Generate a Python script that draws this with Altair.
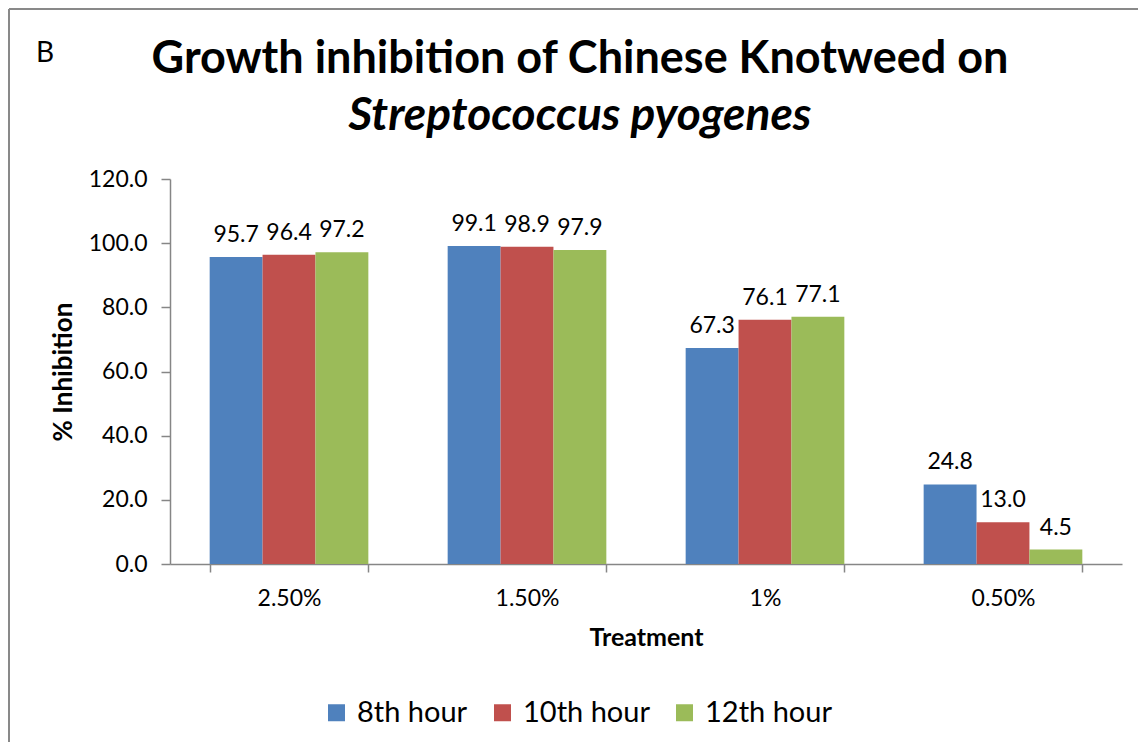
import altair as alt
import pandas as pd

categories = ["2.50%", "1.50%", "1%", "0.50%"]
series = ["8th hour", "10th hour", "12th hour"]
v8 = [95.7, 99.1, 67.3, 24.8]
v10 = [96.4, 98.9, 76.1, 13.0]
v12 = [97.2, 97.9, 77.1, 4.5]
colors = ["#4F81BD", "#C0504D", "#9BBB59"]
title_line1 = "Growth inhibition of Chinese Knotweed on"
title_line2 = "Streptococcus pyogenes"
panel_letter = "B"

rows = []
for s, vals in zip(series, [v8, v10, v12]):
    for c, v in zip(categories, vals):
        rows.append({"Treatment": c, "Series": s, "Value": v})
df = pd.DataFrame(rows)

FONT = "Lato"
W, H = 952, 385
GRAY = "#868686"

x = alt.X("Treatment:N", sort=categories, title="Treatment",
          scale=alt.Scale(paddingInner=0.3333, paddingOuter=0.1667),
          axis=alt.Axis(labelAngle=0, tickBand="extent", labelFontSize=23, labelFont=FONT,
                        labelColor="#000000", labelPadding=15, tickSize=8, tickColor=GRAY,
                        domainColor=GRAY, domainWidth=1.5, tickWidth=1.5,
                        titleFontSize=25, titleFont=FONT,
                        titleFontWeight="bold", titleColor="#000000", titlePadding=15))
y = alt.Y("Value:Q", title="% Inhibition",
          scale=alt.Scale(domain=[0, 120], nice=False),
          axis=alt.Axis(values=[0, 20, 40, 60, 80, 100, 120], format=".1f", grid=False,
                        labelFontSize=23, labelFont=FONT, labelColor="#000000", labelPadding=14,
                        tickSize=9, tickColor=GRAY, domainColor=GRAY, domainWidth=1.5,
                        tickWidth=1.5,
                        titleFontSize=26, titleFont=FONT, titleFontWeight="bold",
                        titleColor="#000000", titlePadding=12))
xo = alt.XOffset("Series:N", sort=series)
color = alt.Color("Series:N", sort=series, scale=alt.Scale(domain=series, range=colors),
                  legend=alt.Legend(title=None, orient="none", direction="horizontal",
                                    legendX=152, legendY=519, symbolType="square",
                                    symbolSize=289, symbolStrokeWidth=0, labelFontSize=29,
                                    labelFont=FONT, labelColor="#000000", columnPadding=20,
                                    symbolOffset=0, labelOffset=6, padding=0))

bars = alt.Chart(df).mark_bar().encode(x=x, xOffset=xo, y=y, color=color)
labels = alt.Chart(df).mark_text(fontSize=23, font=FONT, baseline="alphabetic", dy=-15,
                                 color="#000000").encode(
    x=alt.X("Treatment:N", sort=categories), xOffset=xo, y="Value:Q",
    text=alt.Text("Value:Q", format=".1f"))

one = pd.DataFrame({"a": [0]})
border_top = alt.Chart(one).mark_rule(color="#898989", strokeWidth=2).encode(
    x=alt.value(-161), x2=alt.value(W + 16), y=alt.value(-170))
border_left = alt.Chart(one).mark_rule(color="#898989", strokeWidth=2).encode(
    x=alt.value(-161), y=alt.value(-170), y2=alt.value(H + 178))

letter = alt.Chart(pd.DataFrame({"t": [panel_letter]})).mark_text(
    fontSize=28, font=FONT, align="left", baseline="alphabetic", color="#000000").encode(
    x=alt.value(-134), y=alt.value(-117), text="t:N")

t1 = alt.Chart(pd.DataFrame({"t": [title_line1]})).mark_text(
    fontSize=45, font=FONT, fontWeight="bold", align="center", baseline="alphabetic",
    color="#000000").encode(x=alt.value(410), y=alt.value(-106), text="t:N")
t2 = alt.Chart(pd.DataFrame({"t": [title_line2]})).mark_text(
    fontSize=46, font=FONT, fontWeight="bold", fontStyle="italic", align="center",
    baseline="alphabetic", color="#000000").encode(
    x=alt.value(410), y=alt.value(-49), text="t:N")

chart = alt.layer(border_top, border_left, bars, labels, letter, t1, t2).properties(
    width=W, height=H,
    autosize=alt.AutoSizeParams(type="none"),
    padding={"left": 162, "top": 171, "right": 16, "bottom": 178},
).configure(background="white").configure_view(strokeWidth=0, stroke="transparent")

chart.save("out.html", embed_options={"renderer": "svg", "actions": False})
